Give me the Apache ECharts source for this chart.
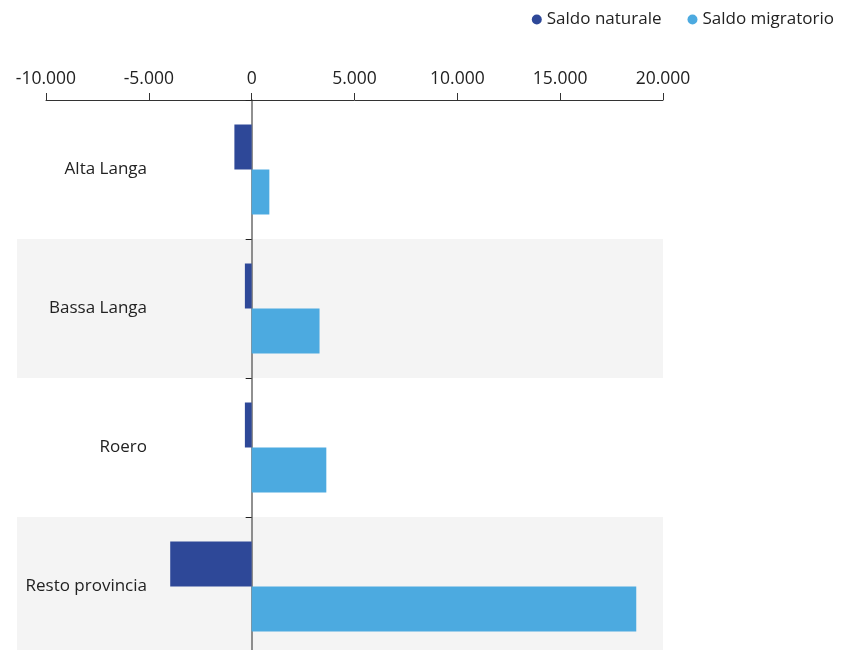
<!DOCTYPE html>
<html>
<head>
<meta charset="utf-8">
<script src="https://cdn.jsdelivr.net/npm/echarts@6/dist/echarts.min.js"></script>
<style>
html,body{margin:0;padding:0;background:#fff;}
#chart{width:853px;height:650px;}
</style>
</head>
<body>
<div id="chart"></div>
<script>
const categories = ['Alta Langa', 'Bassa Langa', 'Roero', 'Resto provincia'];
const saldoNaturale = [-840, -330, -330, -3960];
const saldoMigratorio = [860, 3300, 3630, 18700];
const seriesNames = ['Saldo naturale', 'Saldo migratorio'];
const xMin = -10000, xMax = 20000, xInterval = 5000;

const FONT = '"Open Sans", "Liberation Sans", sans-serif';
const chart = echarts.init(document.getElementById('chart'), null, {renderer: 'canvas'});

function fmt(v) {
  const s = Math.abs(v).toString().replace(/\B(?=(\d{3})+(?!\d))/g, '.');
  return (v < 0 ? '-' : '') + s;
}

chart.setOption({
  animation: false,
  backgroundColor: '#fff',
  textStyle: {fontFamily: FONT},
  legend: {
    data: seriesNames,
    right: 14,
    top: 6,
    icon: 'circle',
    itemWidth: 10,
    itemHeight: 10,
    itemGap: 26,
    textStyle: {fontSize: 17, color: '#222', fontFamily: FONT}
  },
  grid: [
    {left: 17, right: 190, top: 100, height: 556, containLabel: false, outerBoundsMode: 'none'},
    {left: 46, right: 190, top: 100, height: 556, containLabel: false, outerBoundsMode: 'none'}
  ],
  xAxis: [
    {gridIndex: 0, type: 'value', min: xMin, max: xMax, show: false},
    {
      gridIndex: 1, type: 'value', position: 'top',
      min: xMin, max: xMax, interval: xInterval,
      axisLine: {show: true, lineStyle: {color: '#333', width: 1}},
      axisTick: {show: true, length: 7, lineStyle: {color: '#333'}},
      axisLabel: {fontSize: 17.5, color: '#222', margin: 12, formatter: fmt, fontFamily: FONT},
      splitLine: {show: false}
    }
  ],
  yAxis: [
    {
      gridIndex: 0, type: 'category', data: categories, inverse: true,
      axisLine: {show: false}, axisTick: {show: false}, axisLabel: {show: false},
      splitArea: {show: true, areaStyle: {color: ['rgba(255,255,255,0)', '#f4f4f4']}}
    },
    {
      gridIndex: 1, type: 'category', data: categories, inverse: true,
      axisLine: {show: true, onZero: true, lineStyle: {color: '#6b6b6b', width: 1.5}},
      axisTick: {show: true, length: 6, lineStyle: {color: '#222'}},
      axisLabel: {fontSize: 17, color: '#222', margin: -101, fontFamily: FONT, padding: [6, 0, 0, 0]},
      splitArea: {show: false}
    }
  ],
  series: [
    {
      name: seriesNames[0], type: 'bar', xAxisIndex: 1, yAxisIndex: 1,
      data: saldoNaturale, barWidth: 45, barGap: '0%',
      itemStyle: {color: '#2e4898'}
    },
    {
      name: seriesNames[1], type: 'bar', xAxisIndex: 1, yAxisIndex: 1,
      data: saldoMigratorio, barWidth: 45, barGap: '0%',
      itemStyle: {color: '#4caae0'}
    }
  ]
});
</script>
</body>
</html>
